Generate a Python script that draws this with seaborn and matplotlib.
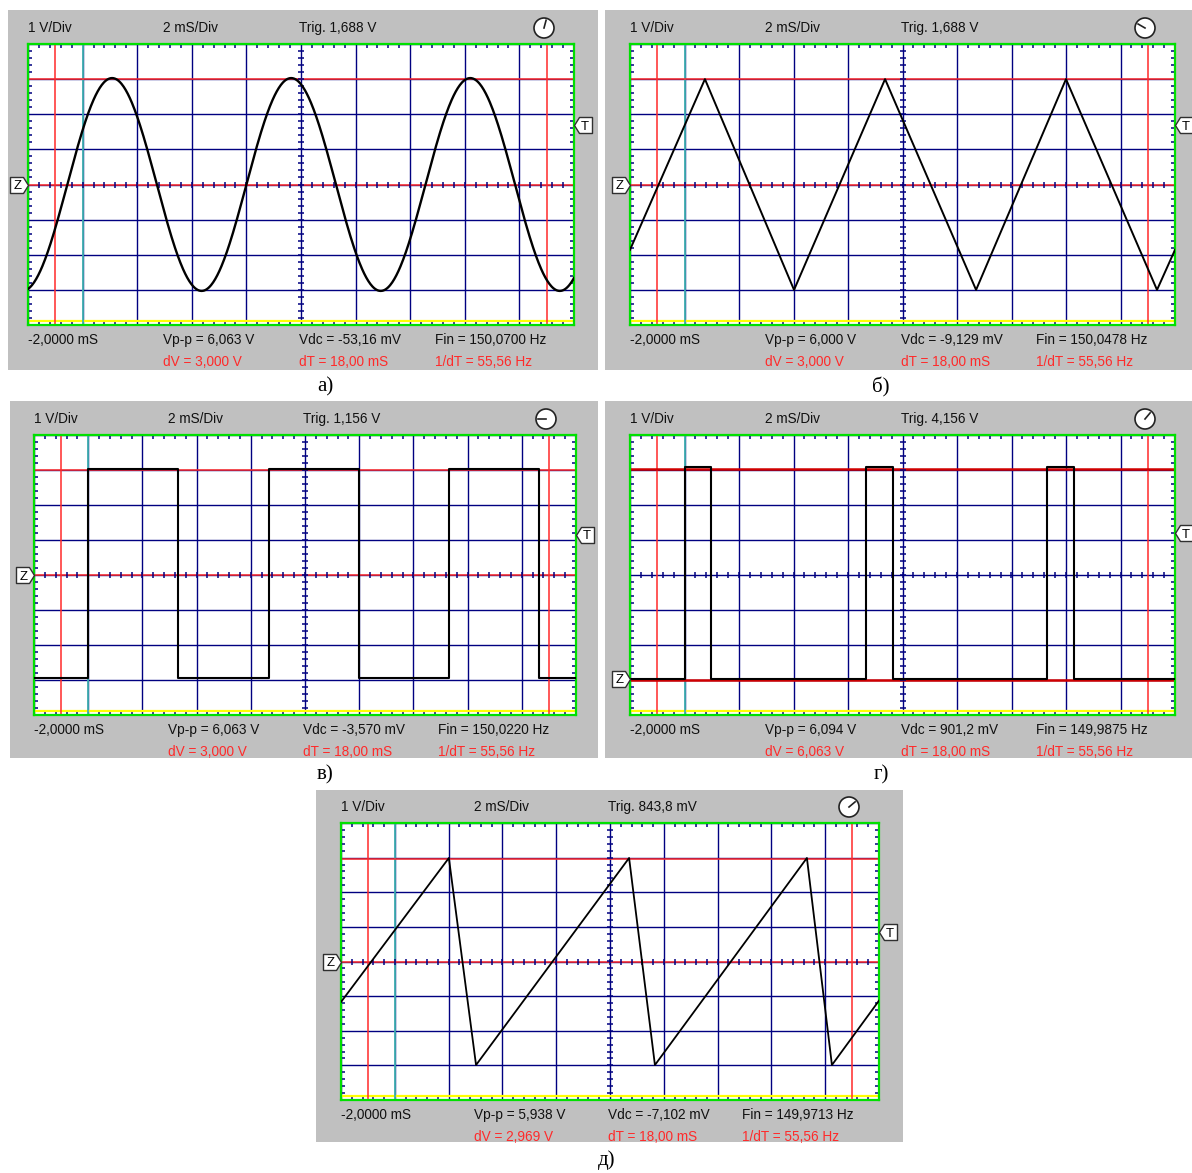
import numpy as np
import matplotlib
matplotlib.use("Agg")
import matplotlib.pyplot as plt
import seaborn as sns
from matplotlib.patches import Circle
from matplotlib.path import Path
from matplotlib.ticker import MultipleLocator

W, H = 1192, 1173
NAVY = "#000080"
GREY = "#c0c0c0"
RED = "#ff2a2a"

# ---- traces (time in mS, volts from screen centre)
sine_amp = 3.03
sine_period = 6.56
sine_peak = 1.08

tri_t = [-2.0, 0.75, 4.02, 7.36, 10.70, 14.00, 17.34, 18.0]
tri_v = [-1.86, 3.0, -3.0, 3.0, -3.0, 3.0, -3.0, -1.86]

sq_t = [-2.0, 0.0, 3.31, 6.67, 9.99, 13.31, 16.63, 18.0]
sq_v = [-2.93, 3.03, -2.93, 3.03, -2.93, 3.03, -2.93, -2.93]

pulse_t = [-2.0, 0.02, 0.97, 6.66, 7.65, 13.30, 14.29, 18.0]
pulse_v = [-2.97, 3.08, -2.97, 3.08, -2.97, 3.08, -2.97, -2.97]

saw_t = [-2.0, 2.01, 3.02, 8.71, 9.67, 15.32, 16.25, 18.0]
saw_v = [-1.17, 2.99, -2.99, 2.99, -2.99, 2.99, -2.99, -1.13]

# ---- readouts
trig_text = ["Trig. 1,688 V", "Trig. 1,688 V", "Trig. 1,156 V", "Trig. 4,156 V", "Trig. 843,8 mV"]
vpp_text = ["Vp-p = 6,063 V", "Vp-p = 6,000 V", "Vp-p = 6,063 V", "Vp-p = 6,094 V", "Vp-p = 5,938 V"]
vdc_text = ["Vdc = -53,16 mV", "Vdc = -9,129 mV", "Vdc = -3,570 mV", "Vdc = 901,2 mV", "Vdc = -7,102 mV"]
fin_text = ["Fin = 150,0700 Hz", "Fin = 150,0478 Hz", "Fin = 150,0220 Hz", "Fin = 149,9875 Hz", "Fin = 149,9713 Hz"]
dv_text = ["dV = 3,000 V", "dV = 3,000 V", "dV = 3,000 V", "dV = 6,063 V", "dV = 2,969 V"]
captions = ["а)", "б)", "в)", "г)", "д)"]

ground = [0.0, 0.0, 0.0, -2.97, 0.0]
trig_level = [1.688, 1.688, 1.156, -2.97 + 4.156, 0.844]
v_cursors = [[3.0, 0.0], [3.0, 0.0], [3.0, 0.0], [3.03, -3.0], [2.97, 0.0]]
t_cursors = [-1.0, 17.0]
clock_angle = [75, 150, 180, 50, 40]

# ---- layout in pixels
grey_boxes = [(8, 10, 598, 370), (605, 10, 1192, 370), (10, 401, 598, 758),
              (605, 401, 1192, 758), (316, 790, 903, 1142)]
plot_boxes = [(28, 44, 574, 325), (630, 44, 1175, 325), (34, 435, 576, 715),
              (630, 435, 1175, 715), (341, 823, 879, 1100)]
caption_pos = [(325, 387), (881, 387), (325, 775), (881, 775), (607, 1160)]

FONT = "Liberation Sans"


def fig_rect(x0, y0, x1, y1):
    return [x0 / W, 1 - y1 / H, (x1 - x0) / W, (y1 - y0) / H]


z_path = Path([(0, 0), (-5, 8), (-18, 8), (-18, -8), (-5, -8), (0, 0)],
              [Path.MOVETO] + [Path.LINETO] * 4 + [Path.CLOSEPOLY])
t_path = Path([(0, 0), (5, 8), (18, 8), (18, -8), (5, -8), (0, 0)],
              [Path.MOVETO] + [Path.LINETO] * 4 + [Path.CLOSEPOLY])
MS = 36 * 72 / 100


def draw_trace(ax, i):
    if i == 0:
        t = np.linspace(-2, 18, 800)
        v = sine_amp * np.cos(2 * np.pi * (t - sine_peak) / sine_period)
        sns.lineplot(x=t, y=v, ax=ax, color="black", lw=1.7, sort=False, estimator=None, zorder=4)
    elif i == 1:
        sns.lineplot(x=tri_t, y=tri_v, ax=ax, color="black", lw=1.4, sort=False, estimator=None, zorder=4)
    elif i == 2:
        sns.lineplot(x=sq_t, y=sq_v, ax=ax, color="black", lw=1.5, sort=False, estimator=None,
                     drawstyle="steps-post", zorder=4)
    elif i == 3:
        sns.lineplot(x=pulse_t, y=pulse_v, ax=ax, color="black", lw=1.5, sort=False, estimator=None,
                     drawstyle="steps-post", zorder=4)
    else:
        sns.lineplot(x=saw_t, y=saw_v, ax=ax, color="black", lw=1.3, sort=False, estimator=None, zorder=4)


def draw_panel(fig, i):
    gx0, gy0, gx1, gy1 = grey_boxes[i]
    px0, py0, px1, py1 = plot_boxes[i]
    gw, gh = gx1 - gx0, gy1 - gy0

    bg = fig.add_axes(fig_rect(*grey_boxes[i]), zorder=0)
    bg.set_xlim(0, gw)
    bg.set_ylim(gh, 0)
    bg.set_facecolor(GREY)
    bg.set_xticks([])
    bg.set_yticks([])
    for s in bg.spines.values():
        s.set_visible(False)

    lx = px0 - gx0
    pw = px1 - px0
    cols = [lx, lx + 0.247 * pw, lx + 0.497 * pw, lx + 0.745 * pw]
    top_y = py0 - gy0 - 16
    row1 = py1 - gy0 + 15
    row2 = py1 - gy0 + 37
    kw = dict(fontsize=9.8, family=FONT, va="center", ha="left")
    bg.text(cols[0], top_y, "1 V/Div", color="#111111", **kw)
    bg.text(cols[1], top_y, "2 mS/Div", color="#111111", **kw)
    bg.text(cols[2], top_y, trig_text[i], color="#111111", **kw)
    bg.text(cols[0], row1, "-2,0000 mS", color="#111111", **kw)
    bg.text(cols[1], row1, vpp_text[i], color="#111111", **kw)
    bg.text(cols[2], row1, vdc_text[i], color="#111111", **kw)
    bg.text(cols[3], row1, fin_text[i], color="#111111", **kw)
    bg.text(cols[1], row2, dv_text[i], color=RED, **kw)
    bg.text(cols[2], row2, "dT = 18,00 mS", color=RED, **kw)
    bg.text(cols[3], row2, "1/dT = 55,56 Hz", color=RED, **kw)

    cx, cy = px1 - gx0 - 30, top_y
    bg.add_patch(Circle((cx, cy), 10, facecolor="white", edgecolor="#222222", lw=1.2))
    a = np.deg2rad(clock_angle[i])
    bg.plot([cx, cx + 8 * np.cos(a)], [cy, cy - 8 * np.sin(a)], color="#222222", lw=1.2)

    ax = fig.add_axes(fig_rect(*plot_boxes[i]), zorder=1)
    ax.set_facecolor("white")
    ax.set_axisbelow(True)

    draw_trace(ax, i)

    ax.set_xlim(-2, 18)
    ax.set_ylim(-4, 4)
    ax.set_xticks(np.arange(-2, 18.1, 2))
    ax.set_yticks(np.arange(-4, 4.1, 1))
    ax.xaxis.set_minor_locator(MultipleLocator(0.4))
    ax.yaxis.set_minor_locator(MultipleLocator(0.2))
    ax.tick_params(which="major", length=0, labelbottom=False, labelleft=False)
    ax.tick_params(which="minor", direction="in", length=3, width=1.1, color=NAVY,
                   top=True, right=True, bottom=True, left=True)
    ax.grid(which="major", color=NAVY, lw=1)
    ax.set_xlabel("")
    ax.set_ylabel("")
    for s in ax.spines.values():
        s.set_color("#00e000")
        s.set_linewidth(1.6)

    # ticks along the centre lines
    mx = np.arange(-2, 18.01, 0.4)
    my = np.arange(-4, 4.01, 0.2)
    ax.plot(mx, np.zeros_like(mx), ls="none", marker="|", ms=4, mew=1.1, color=NAVY, zorder=2.5)
    ax.plot(np.full_like(my, 8.0), my, ls="none", marker="_", ms=4, mew=1.1, color=NAVY, zorder=2.5)

    ax.axhline(-3.88, color="#ffff00", lw=1.6, zorder=2)
    ax.axvline(0.0, color="#40b0b0", lw=1.3, zorder=2)
    for tc in t_cursors:
        ax.axvline(tc, color=RED, lw=1.1, zorder=2)
    for vc in v_cursors[i]:
        ax.axhline(vc, color=RED if i != 3 else "#d00000", lw=1.1 if i != 3 else 1.8, zorder=2)

    # ground (Z) and trigger (T) markers
    ytr = ax.get_yaxis_transform()
    ax.plot([0], [ground[i]], marker=z_path, ms=MS, mfc="white", mec="#303030", mew=1,
            transform=ytr, clip_on=False, zorder=5)
    ax.annotate("Z", xy=(0, ground[i]), xycoords=ytr, xytext=(-7.5, 0), textcoords="offset points",
                ha="center", va="center_baseline", fontsize=9.5, family=FONT,
                annotation_clip=False, zorder=6)
    ax.plot([1], [trig_level[i]], marker=t_path, ms=MS, mfc="white", mec="#303030", mew=1,
            transform=ytr, clip_on=False, zorder=5)
    ax.annotate("T", xy=(1, trig_level[i]), xycoords=ytr, xytext=(7.5, 0), textcoords="offset points",
                ha="center", va="center_baseline", fontsize=9.5, family=FONT,
                annotation_clip=False, zorder=6)

    cx, cy = caption_pos[i]
    fig.text(cx / W, 1 - cy / H, captions[i], family="Liberation Serif", fontsize=15,
             ha="center", va="center")


fig = plt.figure(figsize=(W / 100, H / 100), dpi=100)
fig.patch.set_facecolor("white")
for i in range(5):
    draw_panel(fig, i)

fig.savefig("out.png", dpi=100)
